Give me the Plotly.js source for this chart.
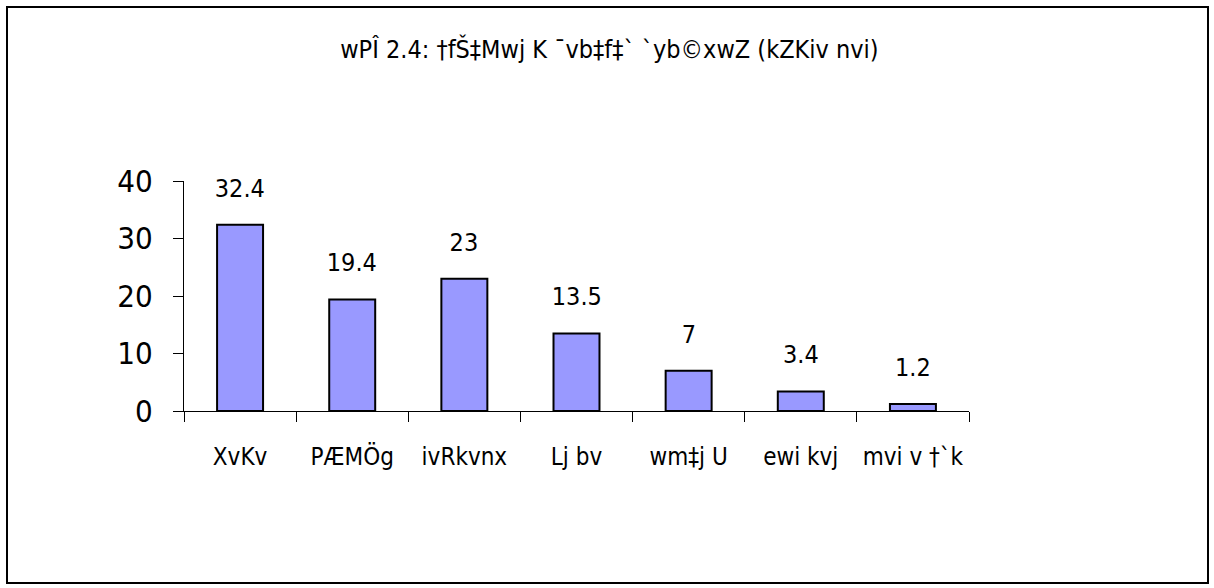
<!DOCTYPE html>
<html>
<head>
<meta charset="utf-8">
<script src="https://cdn.plot.ly/plotly-3.0.1.min.js"></script>
<style>
  html, body { margin: 0; padding: 0; background: #fff; }
  #chart { position: absolute; left: 0; top: 0; width: 1214px; height: 588px; }
  #chart text { font-stretch: condensed !important; }
  #frame { position: absolute; left: 6px; top: 6px; width: 1199px; height: 574px; border: 2px solid #000; pointer-events: none; }
</style>
</head>
<body>
<div id="chart"></div>
<div id="frame"></div>
<script>
const chartTitle = "wPÎ 2.4: †fŠ‡Mwj K ¯vb‡f‡` `yb©xwZ (kZKiv nvi)";
const categories = ["XvKv", "PÆMÖg", "ivRkvnx", "Lj bv", "wm‡j U", "ewi kvj", "mvi v †`k"];
const values = [32.4, 19.4, 23, 13.5, 7, 3.4, 1.2];
const valueLabels = ["32.4", "19.4", "23", "13.5", "7", "3.4", "1.2"];
const yTickVals = [0, 10, 20, 30, 40];

const FONT = "'DejaVu Sans', sans-serif";

const trace = {
  type: "bar",
  x: categories,
  y: values,
  width: 0.41,
  marker: { color: "#9999FF", line: { color: "#000000", width: 2 } },
  hoverinfo: "skip"
};

const annotations = categories.map((c, i) => ({
  x: c, y: values[i], xref: "x", yref: "y",
  text: valueLabels[i], showarrow: false,
  yanchor: "bottom", yshift: 20,
  font: { family: FONT, size: 25, color: "#000" }
}));

const layout = {
  width: 1214, height: 588,
  paper_bgcolor: "#ffffff", plot_bgcolor: "#ffffff",
  margin: { l: 184, r: 245, t: 181, b: 177 },
  showlegend: false,
  title: {
    text: chartTitle,
    x: 0.502, xref: "container", xanchor: "center",
    y: 1 - 49 / 588, yref: "container", yanchor: "middle",
    font: { family: FONT, size: 25, color: "#000" }
  },
  xaxis: {
    type: "category",
    showline: true, linecolor: "#000", linewidth: 1,
    ticks: "outside", tickson: "boundaries", ticklen: 10, tickcolor: "#000", tickwidth: 1,
    tickangle: 0,
    ticklabelstandoff: 24,
    showgrid: false, zeroline: false,
    tickfont: { family: FONT, size: 24, color: "#000" }
  },
  yaxis: {
    range: [0, 40],
    tickvals: yTickVals,
    showline: true, linecolor: "#000", linewidth: 1,
    ticks: "outside", ticklen: 10, tickcolor: "#000", tickwidth: 1,
    ticklabelstandoff: 14,
    showgrid: false, zeroline: false,
    tickfont: { family: FONT, size: 31, color: "#000" }
  },
  bargap: 0.59,
  annotations: annotations
};

Plotly.newPlot("chart", [trace], layout, { displayModeBar: false, staticPlot: true });
</script>
</body>
</html>
